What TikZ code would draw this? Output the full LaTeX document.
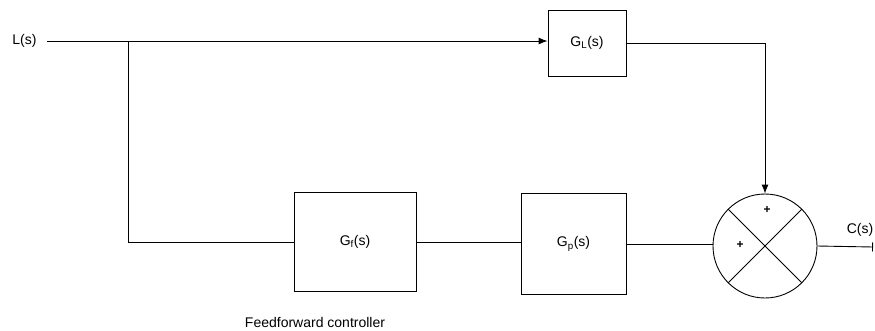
\documentclass[tikz,border=0pt]{standalone}
\usepackage{fontspec}
\setmainfont{Liberation Sans}
\usetikzlibrary{arrows.meta}
\begin{document}
\begin{tikzpicture}[x=1pt,y=-1pt,
  every node/.style={font=\fontsize{14}{16}\selectfont, inner sep=0pt},
  blk/.style={draw, line width=0.9pt},
  conn/.style={line width=0.9pt},
  arr/.style={conn, -{Latex[length=9pt,width=7pt]}},
  plus/.style={font=\fontsize{12}{12}\selectfont\bfseries}]
\useasboundingbox (0,0) rectangle (875,330);
\node (L) at (24.5,41) {L(s)};
\node[blk, minimum width=78pt, minimum height=66pt] (GL) at (587,43) {G\textsubscript{L}(s)};
\node[blk, minimum width=122pt, minimum height=99pt] (Gf) at (355,242) {G\textsubscript{f}(s)};
\node[blk, minimum width=105pt, minimum height=101pt] (Gp) at (573.5,244) {G\textsubscript{p}(s)};
\node[draw, circle, line width=0.9pt, minimum size=104pt] (S) at (765,246) {};
\node[plus] (p1) at (767,210) {+};
\node[plus] (p2) at (740,245) {+};
\node (C) at (860,230) {C(s)};
\node (ff) at (315,322) {Feedforward controller};
\coordinate (start) at (47,41);
\coordinate (br) at (128,41);
\coordinate (out) at (873,247);
\draw[arr] (start) -- (GL.west |- start);
\draw[conn] (br) |- (Gf.west);
\draw[arr] (GL.east) -| (S.north);
\draw[conn] (Gf.east) -- (Gf.east -| Gp.west);
\draw[conn] (Gp.east) -- (Gp.east -| S.west);
\draw[conn, -{Bar[width=9pt]}] (S.east) -- (out);
\draw[conn] (S.north west) -- (S.south east);
\draw[conn] (S.north east) -- (S.south west);
\end{tikzpicture}
\end{document}
